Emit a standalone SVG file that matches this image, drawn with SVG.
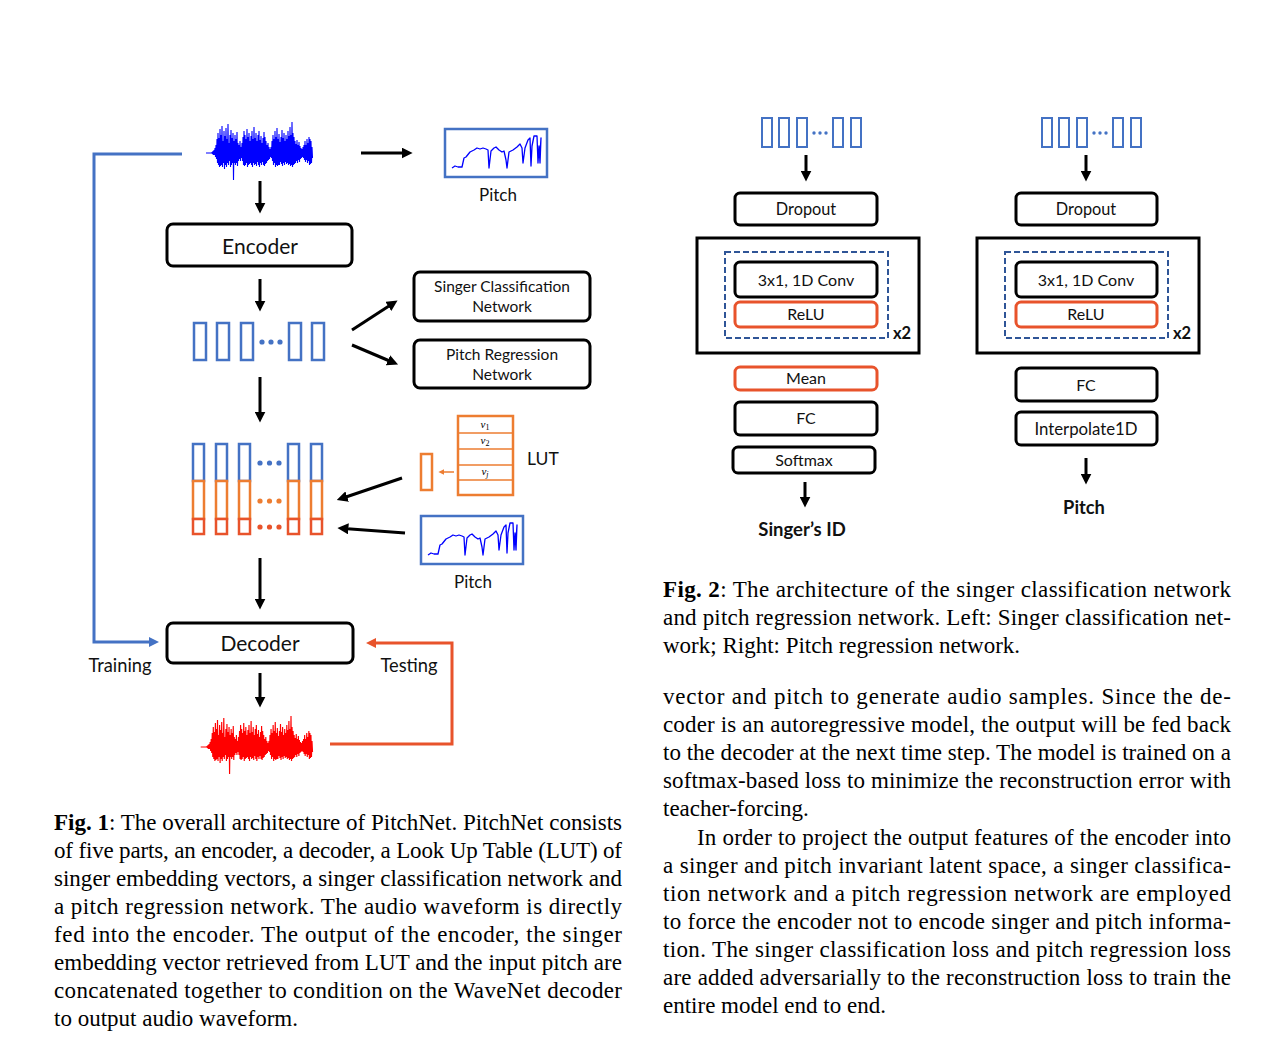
<svg xmlns="http://www.w3.org/2000/svg" xmlns:xlink="http://www.w3.org/1999/xlink" width="1265" height="1046" viewBox="0 0 1265 1046">
<style>
  .lbl { font-family: Lato, "Open Sans", "Liberation Sans", sans-serif; fill: #111; }
  .box { fill: #fff; stroke: #000; stroke-width: 3; }
  .rbox { fill: #fff; stroke: #E8532B; stroke-width: 3; }
  .fbar { fill: #fff; stroke: #4472C4; stroke-width: 2.5; }
  .obar { fill: #fff; stroke: #ED7D31; stroke-width: 2.5; }
  .rbar { fill: #fff; stroke: #E8532B; stroke-width: 2.5; }
  .conn { fill: none; stroke: #000; stroke-width: 3; }
  .cap { font-family: "Liberation Serif", "Times New Roman", serif; font-size: 23px; fill: #000; }
  .var { font-family: "Liberation Serif", serif; font-style: italic; font-size: 11px; fill: #000; }
</style>
<defs>
  <marker id="ah" viewBox="0 0 10 10" refX="4" refY="5" markerWidth="11" markerHeight="11" markerUnits="userSpaceOnUse" orient="auto">
    <path d="M0,0 L10,5 L0,10 z" fill="#000"/>
  </marker>
  <marker id="ahb" viewBox="0 0 10 10" refX="4" refY="5" markerWidth="10" markerHeight="10" markerUnits="userSpaceOnUse" orient="auto">
    <path d="M0,0 L10,5 L0,10 z" fill="#4472C4"/>
  </marker>
  <marker id="ahr" viewBox="0 0 10 10" refX="4" refY="5" markerWidth="10" markerHeight="10" markerUnits="userSpaceOnUse" orient="auto">
    <path d="M0,0 L10,5 L0,10 z" fill="#E8532B"/>
  </marker>
  <marker id="aho" viewBox="0 0 10 10" refX="4" refY="5" markerWidth="6" markerHeight="6" markerUnits="userSpaceOnUse" orient="auto">
    <path d="M0,0 L10,5 L0,10 z" fill="#ED7D31"/>
  </marker>
  <path id="wave" fill="none" stroke-width="1.1" d="M-6,0 L0,0 L0,-1 L0.5,1 L1,-2 L1.5,2 L2,-3 L2.5,2 L3,-5 L3.5,4 L4,-8 L4.5,6 L5,-14 L5.5,10 L6,-20 L6.5,12 L7,-15 L7.5,14 L8,-24 L8.5,13 L9,-18 L9.5,12 L10,-27 L10.5,14 L11,-12 L11.5,10 L12,-22 L12.5,16 L13,-17 L13.5,12 L14,-25 L14.5,14 L15,-14 L15.5,10 L16,-29 L16.5,12 L17,-10 L17.5,8 L18,-18 L18.5,14 L19,-23 L19.5,12 L20,-15 L20.5,10 L21,-20 L21.5,27 L22,-12 L22.5,10 L23,-18 L23.5,12 L24,-14 L24.5,10 L25,-21 L25.5,13 L26,-10 L26.5,8 L27,-8 L27.5,6 L28,-12 L28.5,8 L29,-6 L29.5,5 L30,-10 L30.5,8 L31,-16 L31.5,12 L32,-22 L32.5,13 L33,-18 L33.5,12 L34,-14 L34.5,10 L35,-24 L35.5,14 L36,-16 L36.5,12 L37,-20 L37.5,11 L38,-12 L38.5,10 L39,-17 L39.5,12 L40,-22 L40.5,14 L41,-14 L41.5,10 L42,-26 L42.5,12 L43,-15 L43.5,11 L44,-20 L44.5,13 L45,-12 L45.5,9 L46,-18 L46.5,12 L47,-22 L47.5,14 L48,-13 L48.5,10 L49,-17 L49.5,12 L50,-10 L50.5,9 L51,-15 L51.5,12 L52,-21 L52.5,13 L53,-16 L53.5,11 L54,-12 L54.5,10 L55,-8 L55.5,8 L56,-10 L56.5,7 L57,-6 L57.5,6 L58,-4 L58.5,4 L59,-6 L59.5,5 L60,-12 L60.5,8 L61,-18 L61.5,12 L62,-14 L62.5,10 L63,-22 L63.5,14 L64,-16 L64.5,12 L65,-25 L65.5,13 L66,-14 L66.5,12 L67,-19 L67.5,12 L68,-11 L68.5,9 L69,-16 L69.5,11 L70,-23 L70.5,13 L71,-15 L71.5,10 L72,-20 L72.5,12 L73,-12 L73.5,9 L74,-18 L74.5,11 L75,-14 L75.5,10 L76,-22 L76.5,12 L77,-17 L77.5,11 L78,-26 L78.5,13 L79,-18 L79.5,12 L80,-31 L80.5,14 L81,-20 L81.5,12 L82,-16 L82.5,11 L83,-12 L83.5,10 L84,-9 L84.5,8 L85,-13 L85.5,10 L86,-8 L86.5,7 L87,-11 L87.5,9 L88,-7 L88.5,6 L89,-5 L89.5,5 L90,-4 L90.5,4 L91,-6 L91.5,5 L92,-8 L92.5,7 L93,-12 L93.5,9 L94,-8 L94.5,7 L95,-14 L95.5,10 L96,-10 L96.5,8 L97,-16 L97.5,12 L98,-14 L98.5,11 L99,-12 L99.5,10 L100,-6 L100.5,5"/>
  <g id="pitchplot">
    <rect x="0" y="0" width="102" height="48" fill="#fff" stroke="#4472C4" stroke-width="2.5"/>
    <path fill="none" stroke="#0000FF" stroke-width="1.3" stroke-linejoin="round" d="M7,39 L10,37 L13,38 L17,38 L19,29 L21,28 L25,23 L29,21 L32,19 L35,20 L38,19 L41,20 L43,21 L44,39 L46,22 L49,19 L51,18 L54,21 L57,23 L59,22 L61,31 L62,39 L64,23 L68,21 L72,18 L75,15 L77,19 L78,34 L80,19 L83,11 L85,9 L86,37 L87,17 L89,7 L92,7 L93,34 L94,17 L95,34 L96,9 L95,24"/>
  </g>
</defs>
<rect width="1265" height="1046" fill="#fff"/>

<!-- ===== Connectors ===== -->
<g id="connectors">
  <line class="conn" x1="361" y1="153" x2="406" y2="153" marker-end="url(#ah)"/>
  <line class="conn" x1="260" y1="181" x2="260" y2="207" marker-end="url(#ah)"/>
  <line class="conn" x1="260" y1="279" x2="260" y2="305" marker-end="url(#ah)"/>
  <line class="conn" x1="352" y1="330" x2="392" y2="304" marker-end="url(#ah)"/>
  <line class="conn" x1="352" y1="345" x2="392" y2="362" marker-end="url(#ah)"/>
  <line class="conn" x1="260" y1="377" x2="260" y2="416" marker-end="url(#ah)"/>
  <line class="conn" x1="402" y1="478" x2="343" y2="498" marker-end="url(#ah)"/>
  <line class="conn" x1="405" y1="533" x2="344" y2="528.5" marker-end="url(#ah)"/>
  <line class="conn" x1="260" y1="558" x2="260" y2="603" marker-end="url(#ah)"/>
  <line class="conn" x1="260" y1="673" x2="260" y2="701" marker-end="url(#ah)"/>
  <path fill="none" stroke="#4472C4" stroke-width="3" d="M182,154 H94 V642 H153" marker-end="url(#ahb)"/>
  <path fill="none" stroke="#E8532B" stroke-width="3" d="M330,744 H452 V643 H372" marker-end="url(#ahr)"/>
  <line fill="none" stroke="#ED7D31" stroke-width="1.5" x1="454" y1="472" x2="442" y2="472" marker-end="url(#aho)"/>
  <line class="conn" stroke-width="2.5" x1="806" y1="155" x2="806" y2="175" marker-end="url(#ah)"/>
  <line class="conn" stroke-width="2.5" x1="805" y1="482" x2="805" y2="501" marker-end="url(#ah)"/>
  <line class="conn" stroke-width="2.5" x1="1086" y1="155" x2="1086" y2="175" marker-end="url(#ah)"/>
  <line class="conn" stroke-width="2.5" x1="1086" y1="458" x2="1086" y2="478" marker-end="url(#ah)"/>
</g>

<!-- ===== Figure 1 ===== -->
<g id="input-wave">
  <use xlink:href="#wave" href="#wave" transform="translate(212,153)" stroke="#0000FF"/>
</g>
<g id="pitch-top">
  <use xlink:href="#pitchplot" href="#pitchplot" transform="translate(445,129)"/>
  <text class="lbl" x="498" y="201" font-size="17" text-anchor="middle">Pitch</text>
</g>
<g id="encoder">
  <rect class="box" x="167" y="224" width="185" height="42" rx="6"/>
  <text class="lbl" x="260" y="254" font-size="21" text-anchor="middle">Encoder</text>
</g>
<g id="features">
  <rect class="fbar" x="194" y="323" width="12" height="37"/>
  <rect class="fbar" x="217" y="323" width="12" height="37"/>
  <rect class="fbar" x="241" y="323" width="12" height="37"/>
  <rect class="fbar" x="289" y="323" width="12" height="37"/>
  <rect class="fbar" x="312" y="323" width="12" height="37"/>
  <g fill="#4472C4"><circle cx="262" cy="342" r="2.6"/><circle cx="271" cy="342" r="2.6"/><circle cx="280" cy="342" r="2.6"/></g>
</g>
<g id="singer-cls">
  <rect class="box" x="414" y="272" width="176" height="49" rx="6"/>
  <text class="lbl" x="502" y="292" font-size="15.5" text-anchor="middle">Singer Classification</text>
  <text class="lbl" x="502" y="312" font-size="15.5" text-anchor="middle">Network</text>
</g>
<g id="pitch-reg">
  <rect class="box" x="414" y="340" width="176" height="48" rx="6"/>
  <text class="lbl" x="502" y="360" font-size="15.5" text-anchor="middle">Pitch Regression</text>
  <text class="lbl" x="502" y="380" font-size="15.5" text-anchor="middle">Network</text>
</g>
<g id="concat">
  <g>
    <rect class="fbar" x="193" y="444" width="11" height="37"/>
    <rect class="fbar" x="216" y="444" width="11" height="37"/>
    <rect class="fbar" x="239" y="444" width="11" height="37"/>
    <rect class="fbar" x="288" y="444" width="11" height="37"/>
    <rect class="fbar" x="311" y="444" width="11" height="37"/>
    <rect class="obar" x="193" y="481" width="11" height="38"/>
    <rect class="obar" x="216" y="481" width="11" height="38"/>
    <rect class="obar" x="239" y="481" width="11" height="38"/>
    <rect class="obar" x="288" y="481" width="11" height="38"/>
    <rect class="obar" x="311" y="481" width="11" height="38"/>
    <rect class="rbar" x="193" y="519" width="11" height="15"/>
    <rect class="rbar" x="216" y="519" width="11" height="15"/>
    <rect class="rbar" x="239" y="519" width="11" height="15"/>
    <rect class="rbar" x="288" y="519" width="11" height="15"/>
    <rect class="rbar" x="311" y="519" width="11" height="15"/>
  </g>
  <g fill="#4472C4"><circle cx="260" cy="463" r="2.6"/><circle cx="269.5" cy="463" r="2.6"/><circle cx="279" cy="463" r="2.6"/></g>
  <g fill="#ED7D31"><circle cx="260" cy="501" r="2.6"/><circle cx="269.5" cy="501" r="2.6"/><circle cx="279" cy="501" r="2.6"/></g>
  <g fill="#E8532B"><circle cx="260" cy="527" r="2.6"/><circle cx="269.5" cy="527" r="2.6"/><circle cx="279" cy="527" r="2.6"/></g>
</g>
<g id="lut">
  <rect x="458" y="416" width="55" height="79" fill="#fff" stroke="#ED7D31" stroke-width="2.5"/>
  <g stroke="#ED7D31" stroke-width="1.3">
    <line x1="458" y1="433" x2="513" y2="433"/>
    <line x1="458" y1="449" x2="513" y2="449"/>
    <line x1="458" y1="465" x2="513" y2="465"/>
    <line x1="458" y1="480" x2="513" y2="480"/>
  </g>
  <text class="var" x="485" y="428" text-anchor="middle">v<tspan font-style="normal" font-size="8" dy="2">1</tspan></text>
  <text class="var" x="485" y="444" text-anchor="middle">v<tspan font-style="normal" font-size="8" dy="2">2</tspan></text>
  <text class="var" x="485" y="475" text-anchor="middle">v<tspan font-size="8" dy="2">j</tspan></text>
  <rect x="421" y="454" width="11" height="36" fill="#fff" stroke="#ED7D31" stroke-width="2.5"/>
  <text class="lbl" x="527" y="465" font-size="17.5">LUT</text>
</g>
<g id="pitch-input">
  <use xlink:href="#pitchplot" href="#pitchplot" transform="translate(421,516)"/>
  <text class="lbl" x="473" y="588" font-size="17" text-anchor="middle">Pitch</text>
</g>
<g id="decoder">
  <rect class="box" x="167" y="623" width="186" height="40" rx="6"/>
  <text class="lbl" x="260" y="651" font-size="21" text-anchor="middle">Decoder</text>
</g>
<g id="labels-train-test">
  <text class="lbl" x="120" y="672" font-size="18.3" text-anchor="middle">Training</text>
  <text class="lbl" x="409" y="672" font-size="18.3" text-anchor="middle">Testing</text>
</g>
<g id="output-wave">
  <use xlink:href="#wave" href="#wave" transform="translate(207,747) scale(1.05,1)" stroke="#FF0000"/>
</g>

<!-- ===== Figure 2 left ===== -->
<g id="f2l-input">
  <g fill="#fff" stroke="#4472C4" stroke-width="2">
    <rect x="762" y="118" width="10" height="29"/><rect x="779" y="118" width="10" height="29"/><rect x="797" y="118" width="10" height="29"/>
    <rect x="833" y="118" width="10" height="29"/><rect x="851" y="118" width="10" height="29"/>
  </g>
  <g fill="#4472C4"><circle cx="814" cy="133" r="1.7"/><circle cx="820" cy="133" r="1.7"/><circle cx="826" cy="133" r="1.7"/></g>
</g>
<g id="f2l-dropout">
  <rect class="box" x="735" y="193" width="142" height="32" rx="5"/>
  <text class="lbl" x="806" y="215" font-size="16.3" text-anchor="middle">Dropout</text>
</g>
<g id="f2l-block">
  <rect fill="none" stroke="#000" stroke-width="3" x="697" y="238" width="222" height="115"/>
  <rect fill="none" stroke="#2F5597" stroke-width="2" stroke-dasharray="6,3" x="725" y="252" width="163" height="86"/>
  <rect class="box" x="735" y="262" width="142" height="35" rx="5"/>
  <text class="lbl" x="806" y="286" font-size="16" text-anchor="middle">3x1, 1D Conv</text>
  <rect class="rbox" x="735" y="302" width="142" height="25" rx="5"/>
  <text class="lbl" x="806" y="320" font-size="16" text-anchor="middle">ReLU</text>
  <text class="lbl" x="893" y="339" font-size="16.5" font-weight="bold">x2</text>
</g>
<g id="f2l-mean">
  <rect class="rbox" x="735" y="367" width="142" height="23" rx="5"/>
  <text class="lbl" x="806" y="384" font-size="16" text-anchor="middle">Mean</text>
</g>
<g id="f2l-fc">
  <rect class="box" x="735" y="402" width="142" height="33" rx="5"/>
  <text class="lbl" x="806" y="424" font-size="16" text-anchor="middle">FC</text>
</g>
<g id="f2l-softmax">
  <rect class="box" x="733" y="447" width="142" height="26" rx="5"/>
  <text class="lbl" x="804" y="466" font-size="16" text-anchor="middle">Softmax</text>
</g>
<g id="f2l-out">
  <text class="lbl" x="802" y="536" font-size="18.5" font-weight="bold" text-anchor="middle">Singer’s ID</text>
</g>

<!-- ===== Figure 2 right ===== -->
<g id="f2r-input">
  <g fill="#fff" stroke="#4472C4" stroke-width="2">
    <rect x="1042" y="118" width="10" height="29"/><rect x="1059" y="118" width="10" height="29"/><rect x="1077" y="118" width="10" height="29"/>
    <rect x="1113" y="118" width="10" height="29"/><rect x="1131" y="118" width="10" height="29"/>
  </g>
  <g fill="#4472C4"><circle cx="1094" cy="133" r="1.7"/><circle cx="1100" cy="133" r="1.7"/><circle cx="1106" cy="133" r="1.7"/></g>
</g>
<g id="f2r-dropout">
  <rect class="box" x="1016" y="193" width="141" height="32" rx="5"/>
  <text class="lbl" x="1086" y="215" font-size="16.3" text-anchor="middle">Dropout</text>
</g>
<g id="f2r-block">
  <rect fill="none" stroke="#000" stroke-width="3" x="977" y="238" width="222" height="115"/>
  <rect fill="none" stroke="#2F5597" stroke-width="2" stroke-dasharray="6,3" x="1005" y="252" width="163" height="86"/>
  <rect class="box" x="1016" y="262" width="141" height="35" rx="5"/>
  <text class="lbl" x="1086" y="286" font-size="16" text-anchor="middle">3x1, 1D Conv</text>
  <rect class="rbox" x="1016" y="302" width="141" height="25" rx="5"/>
  <text class="lbl" x="1086" y="320" font-size="16" text-anchor="middle">ReLU</text>
  <text class="lbl" x="1173" y="339" font-size="16.5" font-weight="bold">x2</text>
</g>
<g id="f2r-fc">
  <rect class="box" x="1016" y="368" width="141" height="33" rx="5"/>
  <text class="lbl" x="1086" y="391" font-size="16" text-anchor="middle">FC</text>
</g>
<g id="f2r-interp">
  <rect class="box" x="1016" y="412" width="141" height="33" rx="5"/>
  <text class="lbl" x="1086" y="435" font-size="16.8" text-anchor="middle">Interpolate1D</text>
</g>
<g id="f2r-out">
  <text class="lbl" x="1084" y="514" font-size="18.3" font-weight="bold" text-anchor="middle">Pitch</text>
</g>

<!-- ===== Text ===== -->
<g id="caption-fig1" class="cap">
  <text x="54" y="830" textLength="568" lengthAdjust="spacing"><tspan font-weight="bold">Fig. 1</tspan>: The overall architecture of PitchNet. PitchNet consists</text>
  <text x="54" y="858" textLength="568" lengthAdjust="spacing">of five parts, an encoder, a decoder, a Look Up Table (LUT) of</text>
  <text x="54" y="886" textLength="568" lengthAdjust="spacing">singer embedding vectors, a singer classification network and</text>
  <text x="54" y="914" textLength="568" lengthAdjust="spacing">a pitch regression network.  The audio waveform is directly</text>
  <text x="54" y="942" textLength="568" lengthAdjust="spacing">fed into the encoder.  The output of the encoder, the singer</text>
  <text x="54" y="970" textLength="568" lengthAdjust="spacing">embedding vector retrieved from LUT and the input pitch are</text>
  <text x="54" y="998" textLength="568" lengthAdjust="spacing">concatenated together to condition on the WaveNet decoder</text>
  <text x="54" y="1026">to output audio waveform.</text>
</g>
<g id="caption-fig2" class="cap">
  <text x="663" y="597" textLength="568" lengthAdjust="spacing"><tspan font-weight="bold">Fig. 2</tspan>: The architecture of the singer classification network</text>
  <text x="663" y="625" textLength="568" lengthAdjust="spacing">and pitch regression network. Left: Singer classification net-</text>
  <text x="663" y="653">work; Right: Pitch regression network.</text>
</g>
<g id="body-text" class="cap">
  <text x="663" y="704" textLength="568" lengthAdjust="spacing">vector and pitch to generate audio samples.  Since the de-</text>
  <text x="663" y="732" textLength="568" lengthAdjust="spacing">coder is an autoregressive model, the output will be fed back</text>
  <text x="663" y="760" textLength="568" lengthAdjust="spacing">to the decoder at the next time step. The model is trained on a</text>
  <text x="663" y="788" textLength="568" lengthAdjust="spacing">softmax-based loss to minimize the reconstruction error with</text>
  <text x="663" y="816">teacher-forcing.</text>
  <text x="697" y="845" textLength="534" lengthAdjust="spacing">In order to project the output features of the encoder into</text>
  <text x="663" y="873" textLength="568" lengthAdjust="spacing">a singer and pitch invariant latent space, a singer classifica-</text>
  <text x="663" y="901" textLength="568" lengthAdjust="spacing">tion network and a pitch regression network are employed</text>
  <text x="663" y="929" textLength="568" lengthAdjust="spacing">to force the encoder not to encode singer and pitch informa-</text>
  <text x="663" y="957" textLength="568" lengthAdjust="spacing">tion.  The singer classification loss and pitch regression loss</text>
  <text x="663" y="985" textLength="568" lengthAdjust="spacing">are added adversarially to the reconstruction loss to train the</text>
  <text x="663" y="1013">entire model end to end.</text>
</g>
</svg>
